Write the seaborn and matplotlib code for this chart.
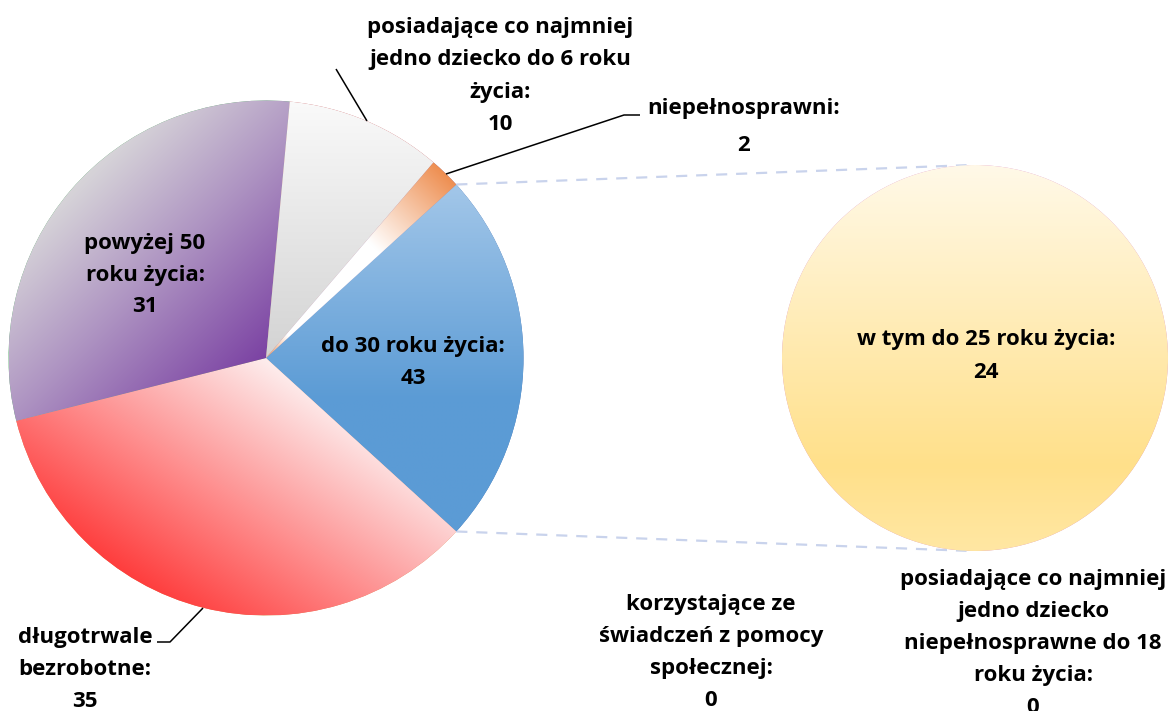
import numpy as np
import matplotlib
matplotlib.use("Agg")
import matplotlib.pyplot as plt
import seaborn as sns
from matplotlib.colors import to_rgb

# ---------------- data ----------------
main_labels = [
    "długotrwale\nbezrobotne:",
    "powyżej 50\nroku życia:",
    "posiadające co najmniej\njedno dziecko do 6 roku\nżycia:",
    "niepełnosprawni:",
    "korzystające ze\nświadczeń z pomocy\nspołecznej:",
]
main_values = [35, 31, 10, 2, 0]
other_label = "do 30 roku życia:"
other_value = 43
sub_labels = [
    "w tym do 25 roku życia:",
    "posiadające co najmniej\njedno dziecko\nniepełnosprawne do 18\nroku życia:",
]
sub_values = [24, 0]

# ---------------- style ----------------
sns.set_theme(style="white")
plt.rcParams["font.family"] = ["Open Sans", "DejaVu Sans"]

W, H = 1170, 711
fig = plt.figure(figsize=(W / 100, H / 100), dpi=100)
ax = fig.add_axes([0, 0, 1, 1])


def Y(y):
    return H - y


c1 = (266.0, Y(358)); r1 = 257.5
c2 = (975.0, Y(358)); r2 = 193.0

other_total = sum(sub_values)
sizes = [other_total] + main_values
start = 180.0 * other_total / sum(sizes)
wedges1, _ = ax.pie(sizes, radius=r1, center=c1, startangle=start,
                    counterclock=False, wedgeprops=dict(linewidth=0))
wedges2, _ = ax.pie(sub_values, radius=r2, center=c2, startangle=90,
                    counterclock=False, wedgeprops=dict(linewidth=0))


def grad_fill(wedge, center, r, p0, p1, stops):
    cx, cy = center
    n = int(2 * r) + 2
    xs = np.linspace(cx - r, cx + r, n)
    ys = np.linspace(cy - r, cy + r, n)
    X, YY = np.meshgrid(xs, ys)
    d = np.array(p1, float) - np.array(p0, float)
    t = ((X - p0[0]) * d[0] + (YY - p0[1]) * d[1]) / (d @ d)
    t = np.clip(t, 0, 1)
    ts = [s[0] for s in stops]
    cols = np.array([to_rgb(s[1]) for s in stops])
    img = np.zeros((n, n, 3))
    for k in range(3):
        img[..., k] = np.interp(t, ts, cols[:, k])
    im = ax.imshow(img, extent=(cx - r, cx + r, cy - r, cy + r), origin="lower",
                   interpolation="bilinear", zorder=wedge.get_zorder() + 0.1)
    im.set_clip_path(wedge)


cx1, cy1 = c1
# blue (other) - vertical
grad_fill(wedges1[0], c1, r1, (cx1, Y(184)), (cx1, Y(400)),
          [(0, "#A3C7E9"), (1, "#5B9BD5")])
# red - diagonal
grad_fill(wedges1[1], c1, r1, (cx1 - 145, cy1 - 218), (cx1, cy1),
          [(0, "#FF3B3B"), (1, "#FDEEEE")])
# purple - diagonal from center to upper-left
grad_fill(wedges1[2], c1, r1, (cx1, cy1), (cx1 - 180, cy1 + 180),
          [(0, "#7B42A3"), (0.55, "#AE94C2"), (1, "#D6D3D8")])
# gray - vertical
grad_fill(wedges1[3], c1, r1, (cx1, Y(100)), (cx1, Y(358)),
          [(0, "#FAFAFA"), (1, "#D3D3D3")])
# orange - radial along bisector
a = np.deg2rad(start - 360.0 * (sum(sizes[:4]) + sizes[4] / 2) / sum(sizes))
grad_fill(wedges1[4], c1, r1, (cx1, cy1), (cx1 + r1 * np.cos(a), cy1 + r1 * np.sin(a)),
          [(0, "#F09A60"), (0.12, "#FFFFFF"), (0.6, "#FFFFFF"), (1, "#EE8E50")])
# yellow second pie
cx2, cy2 = c2
grad_fill(wedges2[0], c2, r2, (cx2, Y(165)), (cx2, Y(551)),
          [(0, "#FFF9E8"), (0.78, "#FFE08A"), (1, "#FFE7A3")])

# connector lines between pies
half = np.deg2rad(start)
for sgn in (1, -1):
    x0 = cx1 + r1 * np.cos(sgn * half)
    y0 = cy1 + r1 * np.sin(sgn * half)
    ang = np.deg2rad(90 + 2.5) * sgn
    x1 = cx2 + r2 * np.cos(ang)
    y1 = cy2 + r2 * np.sin(ang)
    ax.plot([x0, x1], [y0, y1], color="#C9D3EC", lw=1.6, ls=(0, (5, 4)), zorder=1)

# leader lines
lk = dict(color="black", lw=1.1, zorder=5, solid_capstyle="butt")
ax.plot([336, 367], [Y(69), Y(121)], **lk)
ax.plot([446, 624, 640], [Y(174), Y(115), Y(115)], **lk)
ax.plot([203, 170, 157], [Y(608), Y(642), Y(642)], **lk)

# labels
fs = 16
def put(lines, x, y0, sp):
    for i, s in enumerate(lines):
        ax.text(x, Y(y0 + i * sp), s, ha="center", va="baseline",
                fontsize=fs, fontweight="bold", color="black", zorder=10)

put(main_labels[0].split("\n") + [str(main_values[0])], 85, 643, 32)
put(main_labels[1].split("\n") + [str(main_values[1])], 145, 249, 31.5)
put(main_labels[2].split("\n") + [str(main_values[2])], 500, 33, 32.3)
put(main_labels[3].split("\n") + [str(main_values[3])], 744, 114, 37)
put(main_labels[4].split("\n") + [str(main_values[4])], 711, 610, 32)
put(other_label.split("\n") + [str(other_value)], 413, 352, 31.5)
put(sub_labels[0].split("\n") + [str(sub_values[0])], 986, 345, 32.5)
put(sub_labels[1].split("\n") + [str(sub_values[1])], 1033, 585, 32)

ax.set_xlim(0, W)
ax.set_ylim(0, H)
ax.set_aspect("auto")
ax.axis("off")
fig.savefig("out.png", dpi=100, facecolor="white")
